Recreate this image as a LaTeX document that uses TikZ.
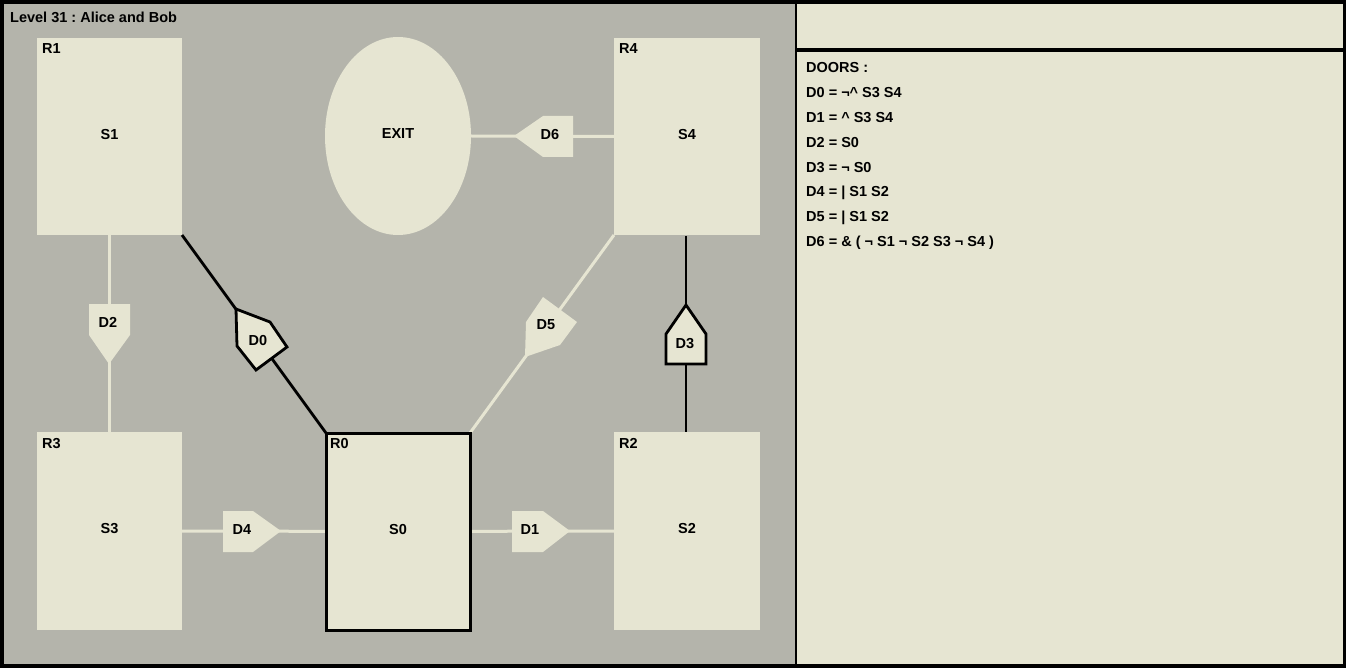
\documentclass[tikz,border=0pt]{standalone}
\usepackage{fontspec}
\setmainfont{Liberation Sans}
\frenchspacing
\usetikzlibrary{shapes.geometric}
\definecolor{bgray}{HTML}{B4B4AB}
\definecolor{cream}{HTML}{E6E5D2}
\tikzset{
  txt/.style={font=\fontsize{14.5}{16}\selectfont\bfseries, inner sep=0pt, text=black},
  room/.style={fill=cream, draw=none, inner sep=0pt, outer sep=0pt},
  activeroom/.style={room, draw=black, line width=3pt},
  cline/.style={draw=cream, line width=3pt},
  bline/.style={draw=black, line width=2.8pt},
  cdoor/.style={fill=cream, draw=none},
  bdoor/.style={fill=cream, draw=black, line width=2.8pt, line join=miter},
}
\begin{document}
\begin{tikzpicture}[x=1pt,y=-1pt]
\useasboundingbox (0,0) rectangle (1346,668);
\fill[black] (0,0) rectangle (1346,668);
\fill[bgray] (4,4) rectangle (795,664);
\fill[cream] (797,4) rectangle (1343,48);
\fill[cream] (797,52) rectangle (1343,664);

% rooms
\node[room, minimum width=145pt, minimum height=197pt] (r1) at (109.5,136.5) {};
\node[room, minimum width=146pt, minimum height=197pt] (r4) at (687,136.5) {};
\node[room, minimum width=145pt, minimum height=198pt] (r3) at (109.5,531) {};
\node[room, minimum width=146pt, minimum height=198pt] (r2) at (687,531) {};
\node[room, ellipse, minimum width=146pt, minimum height=198pt] (exit) at (398,136) {};
\coordinate (r0c) at (398,531.5);

% connectors
\draw[cline] (r1.south) -- (r3.north);
\draw[cline] (exit.east) -- (r4.west);
\draw[cline] (r3.east) -- (r0c);
\draw[cline] (r0c) -- (r2.west);
\draw[bline] (686,236) coordinate (r4s) -- (686,432) coordinate (r2n);
\draw[cline] (r0c) ++(72,-98.5) coordinate (r0ne) -- (r4.south west);
\node[activeroom, minimum width=144pt, minimum height=197pt] (r0) at (r0c) {};
\draw[bline] (r1.south east) -- (r0.north west);

% room texts
\node[txt] (s1) at ([yshift=2pt]r1.center) {S1};
\node[txt] (s4) at ([yshift=2pt]r4.center) {S4};
\node[txt] (s3) at ([yshift=2pt]r3.center) {S3};
\node[txt] (s2) at ([yshift=2pt]r2.center) {S2};
\node[txt] (s0) at ([yshift=2pt]r0.center) {S0};
\node[txt] (ex) at ([yshift=2pt]exit.center) {EXIT};
\node[txt, anchor=west] (l1) at (42,48.5) {R1};
\node[txt, anchor=west] (l4) at (619,48.5) {R4};
\node[txt, anchor=west] (l3) at (42,443.5) {R3};
\node[txt, anchor=west] (l2) at (619,443.5) {R2};
\node[txt, anchor=west] (l0) at (330,443.5) {R0};

% doors
\fill[cdoor] (89,304) -- (130,304) -- (130,335) -- (109,364) -- (89,335) -- cycle;
\node[txt] (d2) at (108,322.5) {D2};
\draw[bdoor] (236,309) -- (270,322) -- (287,347) -- (256,370) -- (237,346) -- cycle;
\node[txt] (d0) at (258,340.5) {D0};
\fill[cdoor] (543,297) -- (577,322) -- (560,345) -- (525,357) -- (526,322) -- cycle;
\node[txt] (d5) at (546,324.5) {D5};
\draw[bdoor] (686,305) -- (706,334) -- (706,364) -- (666,364) -- (666,334) -- cycle;
\node[txt] (d3) at (685,343.5) {D3};
\fill[cdoor] (514,136) -- (543,116) -- (573,116) -- (573,157) -- (543,157) -- cycle;
\node[txt] (d6) at (550,134.5) {D6};
\fill[cdoor] (223,511) -- (253,511) -- (281,531) -- (253,552) -- (223,552) -- cycle;
\node[txt] (d4) at (242,529.5) {D4};
\fill[cdoor] (512,511) -- (543,511) -- (570,531) -- (543,552) -- (512,552) -- cycle;
\node[txt] (d1) at (530,529.5) {D1};

% title
\node[txt, anchor=west] (title) at (10,17.5) {Level 31 : Alice and Bob};

% door list
\node[txt, anchor=west] (t0) at (806,67.5) {DOORS :};
\node[txt, anchor=west] (t1) at (806,92.5) {D0 = ¬\^{} S3 S4};
\node[txt, anchor=west] (t2) at (806,117.5) {D1 = \^{} S3 S4};
\node[txt, anchor=west] (t3) at (806,142.5) {D2 = S0};
\node[txt, anchor=west] (t4) at (806,167.5) {D3 = ¬ S0};
\node[txt, anchor=west] (t5) at (806,192.5) {D4 = | S1 S2};
\node[txt, anchor=west] (t6) at (806,217.5) {D5 = | S1 S2};
\node[txt, anchor=west] (t7) at (806,242.5) {D6 = \& ( ¬ S1 ¬ S2 S3 ¬ S4 )};
\end{tikzpicture}
\end{document}
